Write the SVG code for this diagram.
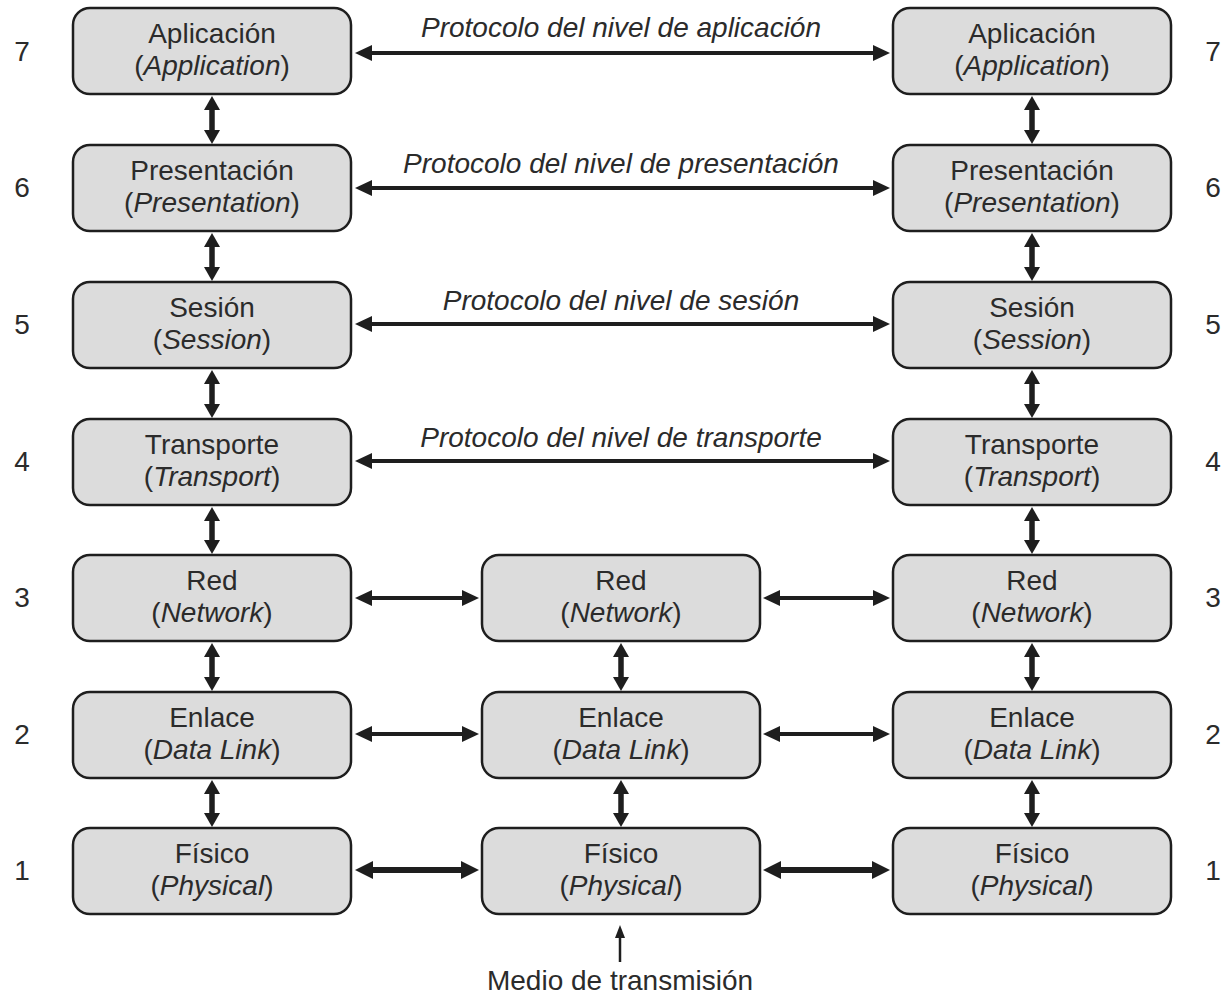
<svg xmlns="http://www.w3.org/2000/svg" width="1231" height="995" viewBox="0 0 1231 995">
<defs>
<style>
.box{fill:#dcdcdc;stroke:#1e1e1e;stroke-width:2.5}
.t{font-family:"Liberation Sans",Arial,sans-serif;font-size:28px;fill:#2b2b2b;text-anchor:middle}
.i{font-style:italic}
.n{font-family:"Liberation Sans",Arial,sans-serif;font-size:28px;fill:#2b2b2b;text-anchor:middle}
.p{font-family:"Liberation Sans",Arial,sans-serif;font-size:28px;font-style:italic;fill:#2b2b2b;text-anchor:middle}
.ah{stroke:#1e1e1e;stroke-width:4;fill:none;marker-start:url(#mh);marker-end:url(#mh)}
.a1{stroke:#1e1e1e;stroke-width:6;fill:none;marker-start:url(#m1);marker-end:url(#m1)}
.av{stroke:#1e1e1e;stroke-width:5.5;fill:none;marker-start:url(#mv);marker-end:url(#mv)}
.at{stroke:#1e1e1e;stroke-width:2.5;fill:none;marker-end:url(#mt)}
</style>
<marker id="mh" markerUnits="userSpaceOnUse" viewBox="0 0 17 16" markerWidth="17" markerHeight="16" refX="8.5" refY="8" orient="auto-start-reverse"><path d="M0,0 L17,8 L0,16 Z" fill="#1e1e1e"/></marker>
<marker id="m1" markerUnits="userSpaceOnUse" viewBox="0 0 18 18" markerWidth="18" markerHeight="18" refX="9" refY="9" orient="auto-start-reverse"><path d="M0,0 L18,9 L0,18 Z" fill="#1e1e1e"/></marker>
<marker id="mv" markerUnits="userSpaceOnUse" viewBox="0 0 14 16" markerWidth="14" markerHeight="16" refX="7" refY="8" orient="auto-start-reverse"><path d="M0,0 L14,8 L0,16 Z" fill="#1e1e1e"/></marker>
<marker id="mt" markerUnits="userSpaceOnUse" viewBox="0 0 13 10" markerWidth="13" markerHeight="10" refX="6" refY="5" orient="auto"><path d="M0,0 L13,5 L0,10 Z" fill="#1e1e1e"/></marker>
</defs>
<rect width="1231" height="995" fill="#ffffff"/>

<g id="numbers">
<text class="n" x="22" y="61">7</text><text class="n" x="1213" y="61">7</text>
<text class="n" x="22" y="197">6</text><text class="n" x="1213" y="197">6</text>
<text class="n" x="22" y="334">5</text><text class="n" x="1213" y="334">5</text>
<text class="n" x="22" y="471">4</text><text class="n" x="1213" y="471">4</text>
<text class="n" x="22" y="607">3</text><text class="n" x="1213" y="607">3</text>
<text class="n" x="22" y="744">2</text><text class="n" x="1213" y="744">2</text>
<text class="n" x="22" y="880">1</text><text class="n" x="1213" y="880">1</text>
</g>

<g id="L7"><rect class="box" x="73" y="8" width="278" height="86" rx="17"/><text class="t" x="212" y="43">Aplicación</text><text class="t" x="212" y="75">(<tspan class="i">Application</tspan>)</text></g>
<g id="L6"><rect class="box" x="73" y="145" width="278" height="86" rx="17"/><text class="t" x="212" y="180">Presentación</text><text class="t" x="212" y="212">(<tspan class="i">Presentation</tspan>)</text></g>
<g id="L5"><rect class="box" x="73" y="282" width="278" height="86" rx="17"/><text class="t" x="212" y="317">Sesión</text><text class="t" x="212" y="349">(<tspan class="i">Session</tspan>)</text></g>
<g id="L4"><rect class="box" x="73" y="419" width="278" height="86" rx="17"/><text class="t" x="212" y="454">Transporte</text><text class="t" x="212" y="486">(<tspan class="i">Transport</tspan>)</text></g>
<g id="L3"><rect class="box" x="73" y="555" width="278" height="86" rx="17"/><text class="t" x="212" y="590">Red</text><text class="t" x="212" y="622">(<tspan class="i">Network</tspan>)</text></g>
<g id="L2"><rect class="box" x="73" y="692" width="278" height="86" rx="17"/><text class="t" x="212" y="727">Enlace</text><text class="t" x="212" y="759">(<tspan class="i">Data Link</tspan>)</text></g>
<g id="L1"><rect class="box" x="73" y="828" width="278" height="86" rx="17"/><text class="t" x="212" y="863">Físico</text><text class="t" x="212" y="895">(<tspan class="i">Physical</tspan>)</text></g>

<g id="M3"><rect class="box" x="482" y="555" width="278" height="86" rx="17"/><text class="t" x="621" y="590">Red</text><text class="t" x="621" y="622">(<tspan class="i">Network</tspan>)</text></g>
<g id="M2"><rect class="box" x="482" y="692" width="278" height="86" rx="17"/><text class="t" x="621" y="727">Enlace</text><text class="t" x="621" y="759">(<tspan class="i">Data Link</tspan>)</text></g>
<g id="M1"><rect class="box" x="482" y="828" width="278" height="86" rx="17"/><text class="t" x="621" y="863">Físico</text><text class="t" x="621" y="895">(<tspan class="i">Physical</tspan>)</text></g>

<g id="R7"><rect class="box" x="893" y="8" width="278" height="86" rx="17"/><text class="t" x="1032" y="43">Aplicación</text><text class="t" x="1032" y="75">(<tspan class="i">Application</tspan>)</text></g>
<g id="R6"><rect class="box" x="893" y="145" width="278" height="86" rx="17"/><text class="t" x="1032" y="180">Presentación</text><text class="t" x="1032" y="212">(<tspan class="i">Presentation</tspan>)</text></g>
<g id="R5"><rect class="box" x="893" y="282" width="278" height="86" rx="17"/><text class="t" x="1032" y="317">Sesión</text><text class="t" x="1032" y="349">(<tspan class="i">Session</tspan>)</text></g>
<g id="R4"><rect class="box" x="893" y="419" width="278" height="86" rx="17"/><text class="t" x="1032" y="454">Transporte</text><text class="t" x="1032" y="486">(<tspan class="i">Transport</tspan>)</text></g>
<g id="R3"><rect class="box" x="893" y="555" width="278" height="86" rx="17"/><text class="t" x="1032" y="590">Red</text><text class="t" x="1032" y="622">(<tspan class="i">Network</tspan>)</text></g>
<g id="R2"><rect class="box" x="893" y="692" width="278" height="86" rx="17"/><text class="t" x="1032" y="727">Enlace</text><text class="t" x="1032" y="759">(<tspan class="i">Data Link</tspan>)</text></g>
<g id="R1"><rect class="box" x="893" y="828" width="278" height="86" rx="17"/><text class="t" x="1032" y="863">Físico</text><text class="t" x="1032" y="895">(<tspan class="i">Physical</tspan>)</text></g>

<g id="connectors">
<line class="ah" x1="363.5" y1="53" x2="881.5" y2="53"/>
<line class="ah" x1="363.5" y1="188" x2="881.5" y2="188"/>
<line class="ah" x1="363.5" y1="324" x2="881.5" y2="324"/>
<line class="ah" x1="363.5" y1="461" x2="881.5" y2="461"/>
<line class="ah" x1="363.5" y1="598" x2="470.5" y2="598"/>
<line class="ah" x1="771.5" y1="598" x2="881.5" y2="598"/>
<line class="ah" x1="363.5" y1="734" x2="470.5" y2="734"/>
<line class="ah" x1="771.5" y1="734" x2="881.5" y2="734"/>
<line class="a1" x1="364" y1="870" x2="470" y2="870"/>
<line class="a1" x1="772" y1="870" x2="881" y2="870"/>

<line class="av" x1="212" y1="103" x2="212" y2="137"/>
<line class="av" x1="212" y1="240" x2="212" y2="274"/>
<line class="av" x1="212" y1="377" x2="212" y2="411"/>
<line class="av" x1="212" y1="514" x2="212" y2="547"/>
<line class="av" x1="212" y1="650" x2="212" y2="684"/>
<line class="av" x1="212" y1="787" x2="212" y2="820"/>
<line class="av" x1="621" y1="650" x2="621" y2="684"/>
<line class="av" x1="621" y1="787" x2="621" y2="820"/>
<line class="av" x1="1032" y1="103" x2="1032" y2="137"/>
<line class="av" x1="1032" y1="240" x2="1032" y2="274"/>
<line class="av" x1="1032" y1="377" x2="1032" y2="411"/>
<line class="av" x1="1032" y1="514" x2="1032" y2="547"/>
<line class="av" x1="1032" y1="650" x2="1032" y2="684"/>
<line class="av" x1="1032" y1="787" x2="1032" y2="820"/>

<line class="at" x1="620" y1="962" x2="620" y2="932"/>
</g>

<g id="labels">
<text class="p" x="621" y="37">Protocolo del nivel de aplicación</text>
<text class="p" x="621" y="173">Protocolo del nivel de presentación</text>
<text class="p" x="621" y="310">Protocolo del nivel de sesión</text>
<text class="p" x="621" y="447">Protocolo del nivel de transporte</text>
<text class="t" x="620" y="990">Medio de transmisión</text>
</g>
</svg>
